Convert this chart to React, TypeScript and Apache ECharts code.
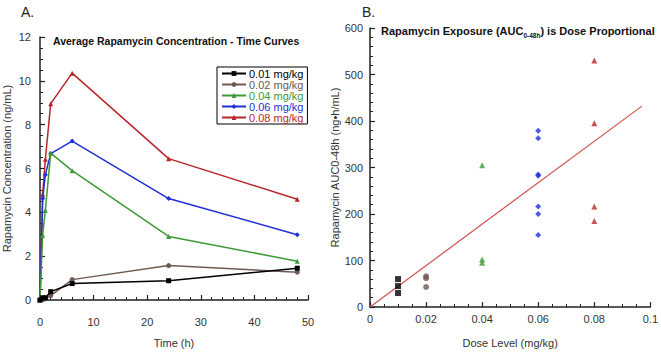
import React, { useEffect, useRef } from "react";
import * as echarts from "echarts";

// Panel A: average concentration–time curves
const times = [0, 0.5, 1, 2, 6, 24, 48];
const seriesNames = ["0.01 mg/kg", "0.02 mg/kg", "0.04 mg/kg", "0.06 mg/kg", "0.08 mg/kg"];
const conc001 = [0, 0.1, 0.1, 0.38, 0.75, 0.88, 1.45];
const conc002 = [0, 0.02, 0.05, 0.2, 0.93, 1.57, 1.27];
const conc004 = [0, 2.96, 4.1, 6.7, 5.9, 2.9, 1.77];
const conc006 = [0, 4.63, 5.72, 6.68, 7.25, 4.63, 2.98];
const conc008 = [0, 4.83, 6.42, 8.96, 10.35, 6.45, 4.6];

// Panel B: individual AUC values by dose
const doses = [0.01, 0.02, 0.04, 0.06, 0.08];
const auc001 = [60, 45, 30];
const auc002 = [66, 62, 43];
const auc004 = [305, 102, 95];
const auc006 = [379, 363, 285, 282, 216, 200, 155];
const auc008 = [530, 395, 216, 185];
const fitX = [0, 0.097];
const fitY = [0, 432];

const colors = ["#000000", "#6e5a52", "#3d9a35", "#1f2fd6", "#b8262a"];
const symbols = ["rect", "circle", "triangle", "diamond", "triangle"];

const FONT = "Liberation Sans, Arial, sans-serif";

export default function App() {
  const ref = useRef<HTMLDivElement>(null);
  useEffect(() => {
    if (!ref.current) return;
    const chart = echarts.init(ref.current, null, { renderer: "svg" });
    const concs = [conc001, conc002, conc004, conc006, conc008];
    const aucs = [auc001, auc002, auc004, auc006, auc008];

    const lineSeries = concs.map((c, i) => ({
      name: seriesNames[i],
      type: "line",
      xAxisIndex: 0,
      yAxisIndex: 0,
      data: times.map((t, j) => [t, c[j]]),
      symbol: symbols[i],
      symbolSize: 5,
      lineStyle: { color: colors[i], width: 1.5 },
      itemStyle: { color: colors[i] },
      z: 2 + (4 - i),
    }));

    const scatterSeries = aucs.map((a, i) => ({
      name: "B " + seriesNames[i],
      type: "scatter",
      xAxisIndex: 1,
      yAxisIndex: 1,
      data: a.map((v) => [doses[i], v]),
      symbol: symbols[i],
      symbolSize: 6,
      itemStyle: { color: colors[i] },
      z: 3,
    }));

    const axisCommon = {
      axisLine: { show: true, lineStyle: { color: "#222", width: 1.5 } },
      axisTick: { show: true, inside: true, length: 5, lineStyle: { color: "#222", width: 1.2 } },
      minorTick: { show: true, length: 3, lineStyle: { color: "#222", width: 1 } },
      splitLine: { show: false },
      axisLabel: { color: "#333", fontSize: 11, fontFamily: FONT },
      nameTextStyle: { color: "#333", fontSize: 11, fontFamily: FONT },
    };

    chart.setOption({
      animation: false,
      textStyle: { fontFamily: FONT },
      grid: [
        { left: 40, top: 37, width: 268, height: 268 },
        { left: 370, top: 28, width: 282, height: 282 },
      ],
      legend: {
        data: seriesNames.map((n, i) => ({ name: n, textStyle: { color: colors[i] } })),
        orient: "vertical",
        left: 217,
        top: 67,
        itemWidth: 24,
        itemHeight: 6,
        itemGap: 0,
        padding: [1, 4, 1, 4],
        borderColor: "#000",
        borderWidth: 1,
        textStyle: { fontSize: 11, lineHeight: 10, fontFamily: FONT, padding: [0, 0, 0, -2] },
      },
      xAxis: [
        {
          ...axisCommon,
          gridIndex: 0,
          type: "value",
          min: 0,
          max: 50,
          interval: 10,
          offset: 8,
          minorTick: { ...axisCommon.minorTick, splitNumber: 5 },
          axisLabel: { ...axisCommon.axisLabel, margin: 8 },
          name: "Time (h)",
          nameLocation: "middle",
          nameGap: 29,
        },
        {
          ...axisCommon,
          gridIndex: 1,
          type: "value",
          min: 0,
          max: 0.1,
          interval: 0.02,
          minorTick: { ...axisCommon.minorTick, splitNumber: 4 },
          axisLabel: {
            ...axisCommon.axisLabel,
            margin: 6,
            formatter: (v: number) => (v === 0 ? "0" : String(+v.toFixed(2))),
          },
          name: "Dose Level (mg/kg)",
          nameLocation: "middle",
          nameGap: 30,
        },
      ],
      yAxis: [
        {
          ...axisCommon,
          gridIndex: 0,
          type: "value",
          min: 0,
          max: 12,
          interval: 2,
          offset: 4,
          minorTick: { ...axisCommon.minorTick, splitNumber: 4 },
          axisLabel: { ...axisCommon.axisLabel, margin: 5 },
          name: "Rapamycin Concentration (ng/mL)",
          nameLocation: "middle",
          nameGap: 24,
        },
        {
          ...axisCommon,
          gridIndex: 1,
          type: "value",
          min: 0,
          max: 600,
          interval: 100,
          minorTick: { ...axisCommon.minorTick, splitNumber: 5 },
          axisLabel: { ...axisCommon.axisLabel, margin: 7 },
          name: "Rapamycin AUC0-48h (ng•h/mL)",
          nameLocation: "middle",
          nameGap: 30,
        },
      ],
      graphic: [
        { type: "text", left: 21, top: 5, style: { text: "A.", fontSize: 14, fill: "#222", fontFamily: FONT } },
        { type: "text", left: 362, top: 5, style: { text: "B.", fontSize: 14, fill: "#222", fontFamily: FONT } },
        {
          type: "text",
          left: 53,
          top: 35,
          style: {
            text: "Average Rapamycin Concentration - Time Curves",
            fontSize: 10.5,
            fontWeight: "bold",
            fill: "#111",
            fontFamily: FONT,
          },
        },
        {
          type: "text",
          left: 381,
          top: 25,
          style: {
            text: "Rapamycin Exposure (AUC{sub|0-48h}) is Dose Proportional",
            fontSize: 11,
            fontWeight: "bold",
            fill: "#111",
            fontFamily: FONT,
            rich: {
              sub: { fontSize: 6.5, fontWeight: "bold", fill: "#111", padding: [9, 0, 0, 0], fontFamily: FONT },
            },
          },
        },
      ],
      series: [
        ...lineSeries,
        ...scatterSeries,
        {
          name: "fit",
          type: "line",
          xAxisIndex: 1,
          yAxisIndex: 1,
          data: fitX.map((x, i) => [x, fitY[i]]),
          symbol: "none",
          lineStyle: { color: "#d0504c", width: 1.2 },
          z: 1,
        },
      ],
    });
    return () => chart.dispose();
  }, []);
  return (
    <div
      ref={ref}
      style={{ position: "fixed", left: 0, top: 0, width: 661, height: 353, background: "#fff" }}
    />
  );
}
